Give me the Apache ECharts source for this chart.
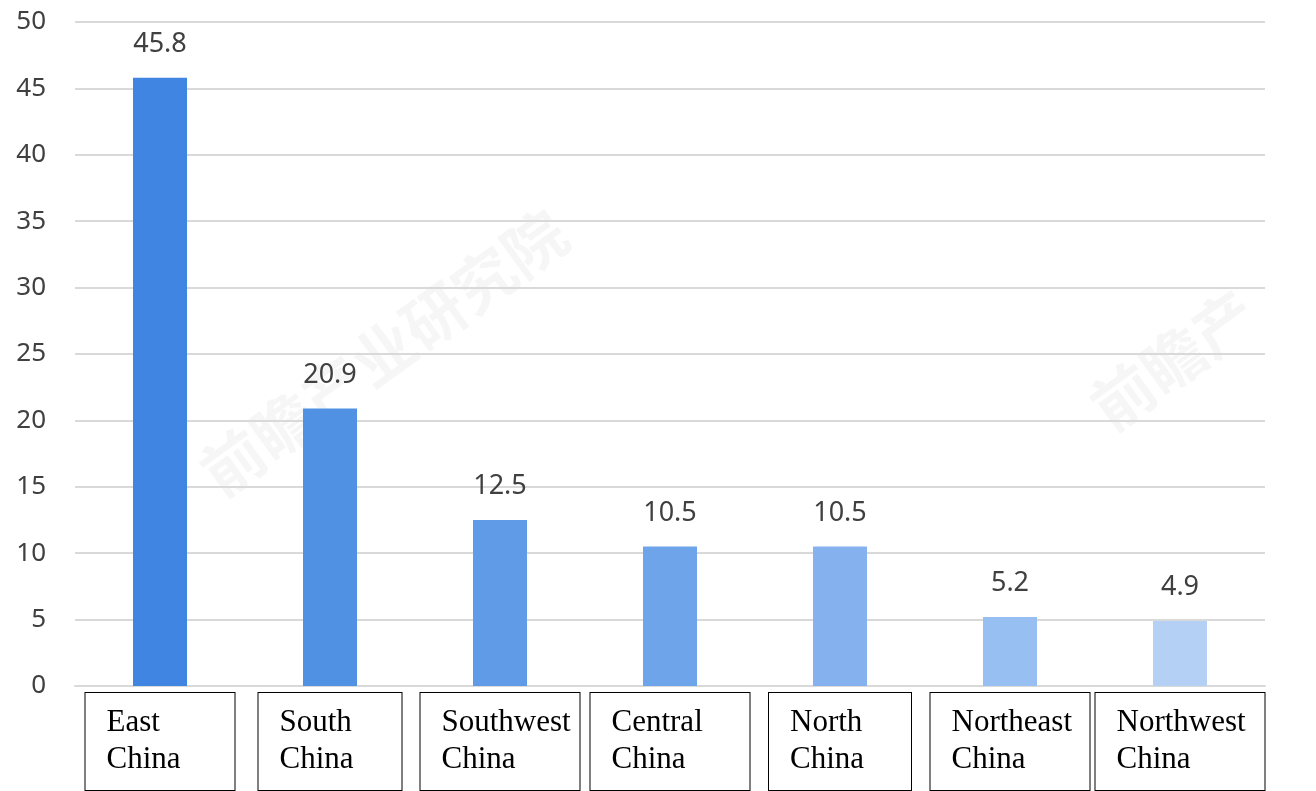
<!DOCTYPE html>
<html>
<head>
<meta charset="utf-8">
<script src="https://cdn.jsdelivr.net/npm/echarts@6/dist/echarts.min.js"></script>
<style>
  html, body { margin: 0; padding: 0; background: #fff; }
  #main { width: 1316px; height: 791px; }
</style>
</head>
<body>
<div id="main"></div>
<script>
// regions and shares
var categories = ['East\nChina', 'South\nChina', 'Southwest\nChina', 'Central\nChina', 'North\nChina', 'Northeast\nChina', 'Northwest\nChina'];
var values = [45.8, 20.9, 12.5, 10.5, 10.5, 5.2, 4.9];
var yTicks = [0, 5, 10, 15, 20, 25, 30, 35, 40, 45, 50];

// bar colours, dark to light
var barColors = ['#4085e1', '#5091e3', '#5f9be6', '#6ea5ea', '#85b1ee', '#98bff2', '#b4d0f5'];
// width of the text area inside each label box
var boxWidths = [128, 122, 138, 138, 121, 138, 148];

var chart = echarts.init(document.getElementById('main'));

var option = {
  animation: false,
  grid: {
    left: 75,
    right: 51,
    top: 22,
    bottom: 105
  },
  graphic: [
    {
      type: 'text', left: 190, top: 200, rotation: Math.PI / 5, z: 0,
      style: { text: '前瞻产业研究院', fontSize: 62, fontWeight: 'bold', fill: 'rgba(0,0,0,0.035)', fontFamily: 'Noto Sans CJK SC' }
    },
    {
      type: 'text', left: 1080, top: 280, rotation: Math.PI / 5, z: 0,
      style: { text: '前瞻产', fontSize: 62, fontWeight: 'bold', fill: 'rgba(0,0,0,0.035)', fontFamily: 'Noto Sans CJK SC' }
    }
  ],
  xAxis: {
    type: 'category',
    data: categories.map(function (c, i) {
      return {
        value: c,
        textStyle: {
          rich: { t: { width: boxWidths[i], align: 'left', fontFamily: 'Liberation Serif', fontSize: 31, lineHeight: 37, color: '#000' } }
        }
      };
    }),
    axisTick: { show: false },
    axisLine: { lineStyle: { color: '#d9d9d9', width: 2 } },
    axisLabel: {
      interval: 0,
      margin: 7,
      formatter: function (v) {
        return v.split('\n').map(function (s) { return '{t|' + s + '}'; }).join('\n');
      },
      borderColor: '#000',
      borderWidth: 1,
      padding: [11, 0, 12, 21],
      backgroundColor: '#fff',
      fontFamily: 'Liberation Serif',
      fontSize: 31,
      color: '#000'
    }
  },
  yAxis: {
    type: 'value',
    min: yTicks[0],
    max: yTicks[yTicks.length - 1],
    interval: 5,
    axisLine: { show: false },
    axisTick: { show: false },
    axisLabel: {
      margin: 29,
      fontFamily: 'Noto Sans',
      fontSize: 26,
      color: '#404040'
    },
    splitLine: { lineStyle: { color: '#d9d9d9', width: 2 } }
  },
  series: [{
    type: 'bar',
    barWidth: 54,
    z: 2,
    data: values.map(function (v, i) {
      return { value: v, itemStyle: { color: barColors[i] } };
    }),
    label: {
      show: true,
      position: 'top',
      distance: 20,
      fontFamily: 'Noto Sans',
      fontSize: 27,
      color: '#404040'
    }
  }]
};

chart.setOption(option);
</script>
</body>
</html>
